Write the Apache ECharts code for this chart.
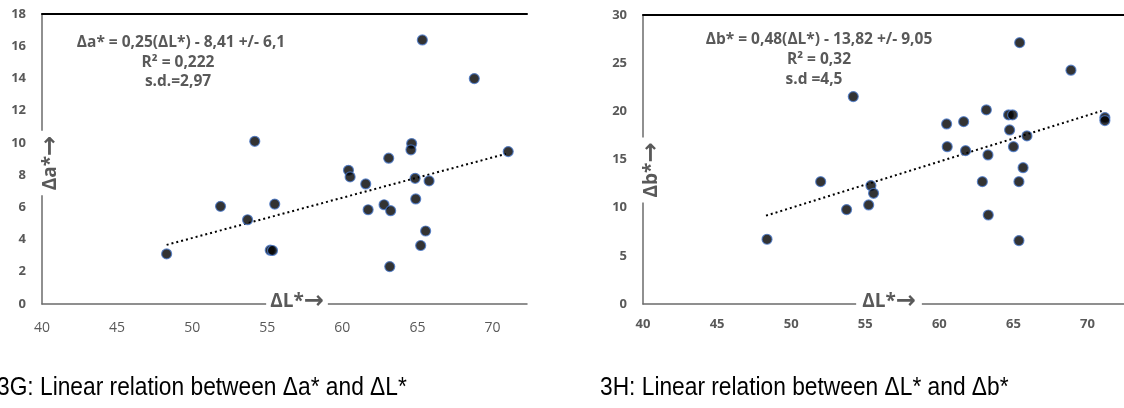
<!DOCTYPE html>
<html><head><meta charset="utf-8">
<script src="https://cdn.jsdelivr.net/npm/echarts@6/dist/echarts.min.js"></script>
<style>html,body{margin:0;padding:0;background:#fff}#c{width:1124px;height:408px}</style>
</head><body><div id="c"></div>
<script>
// ---- data ----
const dL_A = [65.33, 68.79, 64.62, 64.57, 63.09, 71.05, 48.30, 51.89, 53.69, 55.20, 55.35, 55.50, 60.41, 60.52, 61.56, 64.85, 65.78, 61.72, 62.78, 63.22, 64.89, 65.55, 65.22, 63.16, 54.17];
const dA   = [16.39, 13.99,  9.96,  9.57,  9.05,  9.46,  3.11,  6.06,  5.23,  3.34,  3.32,  6.20,  8.30,  7.89,  7.45,  7.80,  7.64,  5.85,  6.16,  5.79,  6.52,  4.53,  3.63,  2.32, 10.10];
const dL_B = [54.19, 65.42, 68.88, 60.49, 61.64, 63.17, 64.67, 64.94, 64.74, 71.17, 71.17, 60.53, 61.77, 63.28, 65.00, 65.91, 65.65, 62.90, 65.37, 63.30, 65.37, 55.38, 55.56, 55.23, 53.74, 51.99, 48.37];
const dB   = [21.53, 27.13, 24.27, 18.69, 18.93, 20.15, 19.63, 19.63, 18.07, 19.35, 19.04, 16.33, 15.92, 15.47, 16.33, 17.45, 14.15, 12.70, 12.70,  9.24,  6.58, 12.29, 11.49, 10.28,  9.80, 12.70,  6.72];
const trendA_x = [48.3, 70.9];
const trendA_y = [3.67, 9.32];
const trendB_x = [48.3, 70.95];
const trendB_y = [9.17, 20.04];
const xTickLabels = ['40', '45', '50', '55', '60', '65', '70'];
const yTickLabelsA = ['0', '2', '4', '6', '8', '10', '12', '14', '16', '18'];
const yTickLabelsB = ['0', '5', '10', '15', '20', '25', '30'];
const eqA = ['Δa* = 0,25(ΔL*) - 8,41 +/- 6,1', 'R² = 0,222', 's.d.=2,97'];
const eqB = ['Δb* = 0,48(ΔL*) - 13,82 +/- 9,05', 'R² = 0,32', 's.d =4,5'];
const nameA = 'Δa*', nameB = 'Δb*', nameL = 'ΔL*';
const captionA = '3G: Linear relation between Δa* and ΔL*';
const captionB = '3H: Linear relation between ΔL* and Δb*';

const zip = (xs, ys) => xs.map((x, i) => [x, ys[i]]);
const GRAY = '#595959';
const FONT = '"Open Sans", "DejaVu Sans", sans-serif';

function xAxes(gi, max, bold, fs, margin) {
  return [{
    type: 'value', gridIndex: gi, min: 40, max: max, interval: 5, position: 'bottom',
    axisLine: { show: true, onZero: false, lineStyle: { color: '#6b6b6b', width: 1.5 } },
    axisTick: { show: false }, splitLine: { show: false },
    axisLabel: { margin: margin, color: GRAY, fontFamily: FONT, fontSize: fs, fontWeight: bold ? 'bold' : 'normal',
      showMaxLabel: false,
      formatter: v => xTickLabels.includes(String(v)) ? String(v) : '' }
  }, {
    type: 'value', gridIndex: gi, min: 40, max: max, position: 'top',
    axisLine: { show: true, onZero: false, lineStyle: { color: '#000', width: 2 } },
    axisTick: { show: false }, splitLine: { show: false }, axisLabel: { show: false }
  }];
}
function yAxis(gi, max, interval, labels) {
  return {
    type: 'value', gridIndex: gi, min: 0, max: max, interval: interval,
    axisLine: { show: true, onZero: false, lineStyle: { color: '#6b6b6b', width: 1.5 } },
    axisTick: { show: false }, splitLine: { show: false },
    axisLabel: { margin: 16, color: GRAY, fontFamily: FONT, fontSize: 13, fontWeight: 'bold',
      formatter: v => labels.includes(String(v)) ? String(v) : '' }
  };
}
const dotStyle = { color: '#000', borderColor: '#4a78c8', borderWidth: 1.2 };

function txt(text, x, y, o) {
  return Object.assign({ type: 'text', x: x, y: y, z: 100,
    style: Object.assign({ text: text, fill: GRAY, font: 'bold 15.5px ' + FONT, align: 'center', verticalAlign: 'middle' }, o && o.style || {}) },
    o && o.el || {});
}
const nameRich = {
  n: { fontFamily: FONT, fontWeight: 'bold', fontSize: 19, fill: GRAY, color: GRAY },
  a: { fontFamily: '"DejaVu Sans", sans-serif', fontWeight: 'bold', fontSize: 24, fill: GRAY, color: GRAY }
};
function nameTxt(name, x, y, pad, rot) {
  return txt('{n|' + name + '}{a|→}', x, y, {
    style: { rich: nameRich, backgroundColor: '#fff', padding: [0, pad, 0, pad] },
    el: rot ? { rotation: Math.PI / 2 } : {}
  });
}

const chart = echarts.init(document.getElementById('c'), null, { renderer: 'canvas' });
chart.setOption({
  animation: false,
  backgroundColor: '#fff',
  grid: [
    { left: 42, top: 14, width: 485, height: 290, outerBoundsMode: 'none' },
    { left: 643, top: 15, width: 481, height: 289, outerBoundsMode: 'none' }
  ],
  xAxis: [].concat(xAxes(0, 72.3, false, 14, 17), xAxes(1, 72.46, true, 13, 14)),
  yAxis: [yAxis(0, 18, 2, yTickLabelsA), yAxis(1, 30, 5, yTickLabelsB)],
  series: [
    { type: 'line', xAxisIndex: 0, yAxisIndex: 0, data: zip(trendA_x, trendA_y), showSymbol: false,
      lineStyle: { color: '#000', width: 2, type: [2, 3] }, silent: true, z: 2 },
    { type: 'scatter', xAxisIndex: 0, yAxisIndex: 0, data: zip(dL_A, dA), symbolSize: 10, itemStyle: dotStyle, z: 3 },
    { type: 'line', xAxisIndex: 2, yAxisIndex: 1, data: zip(trendB_x, trendB_y), showSymbol: false,
      lineStyle: { color: '#000', width: 2, type: [2, 3] }, silent: true, z: 2 },
    { type: 'scatter', xAxisIndex: 2, yAxisIndex: 1, data: zip(dL_B, dB), symbolSize: 10, itemStyle: dotStyle, z: 3 }
  ],
  graphic: [
    txt(eqA[0], 181, 43), txt(eqA[1], 178, 63), txt(eqA[2], 178, 82),
    txt(eqB[0], 819, 40), txt(eqB[1], 819, 60), txt(eqB[2], 814, 80),
    nameTxt(nameA, 51, 163, 5, true),
    nameTxt(nameB, 652, 170, 5, true),
    nameTxt(nameL, 297, 302, 4, false),
    nameTxt(nameL, 889, 302, 6, false),
    txt(captionA, -3, 388, { style: { fill: '#000', font: '25px "Liberation Sans", Arial, sans-serif', align: 'left' }, el: { scaleX: 0.91 } }),
    txt(captionB, 600, 388, { style: { fill: '#000', font: '25px "Liberation Sans", Arial, sans-serif', align: 'left' }, el: { scaleX: 0.91 } })
  ]
});
</script></body></html>
